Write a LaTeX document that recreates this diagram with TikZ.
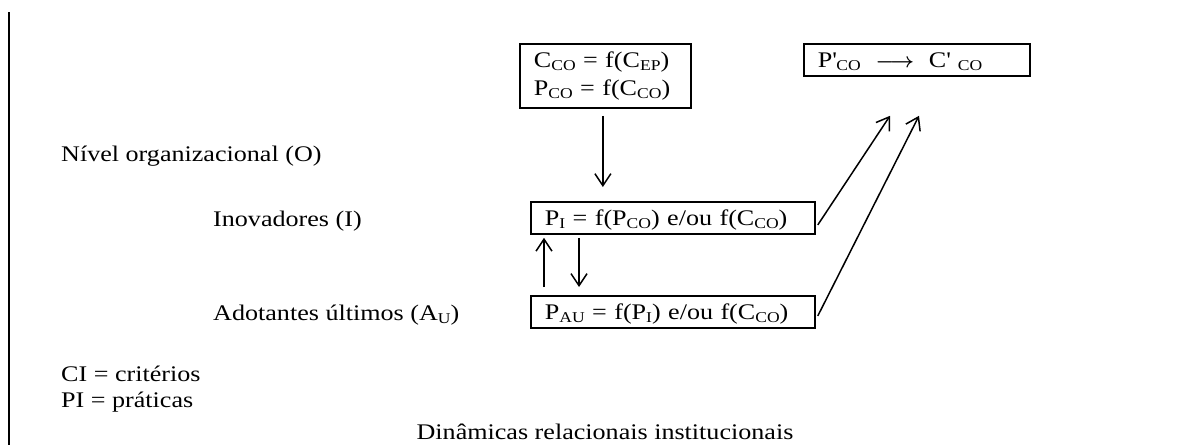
\documentclass[tikz,border=0pt]{standalone}
\usepackage{fontspec}
\setmainfont{Liberation Serif}[FakeStretch=1.17]
\usetikzlibrary{arrows.meta}
\newcommand\lowsub[1]{\raisebox{-3pt}{\fontsize{15}{15}\selectfont #1}}
\newcommand\sq{\XeTeXglyph\XeTeXglyphindex "quotesingle"\relax}
\begin{document}
\begin{tikzpicture}[x=1pt,y=-1pt,
  txt/.style={anchor=base west, inner sep=0pt, font=\fontsize{22.3}{26}\selectfont},
  box/.style={draw, line width=1.8pt, anchor=north west, align=left, inner xsep=14pt, font=\fontsize{22.3}{28}\selectfont},
  onebox/.style={box, inner ysep=2pt, text height=22pt, text depth=6pt},
  arr/.style={line width=1.5pt, -{Straight Barb[length=12pt,width=16pt]}}]
\useasboundingbox (0,0) rectangle (1187,445);
\coordinate (ltop) at (9,12);
\coordinate (lbot) at (9,445);
\draw[line width=2.2pt] (ltop) -- (lbot);

\node[txt] (nivel) at (61,161) {Nível organizacional (O)};
\node[txt] (inov) at (213,226) {Inovadores (I)};
\node[txt] (adot) at (213,320) {Adotantes últimos (A\lowsub{U})};
\node[txt] (ci) at (61,381) {CI = critérios};
\node[txt] (pr) at (61,407) {PI = práticas};
\node[txt, anchor=base] (din) at (605,439) {Dinâmicas relacionais institucionais};

\node[box, text width=143pt, minimum height=64pt, inner ysep=2pt] (cco) at (519,43)
  {C\lowsub{CO} = f(C\lowsub{EP})\\P\lowsub{CO} = f(C\lowsub{CO})};
\node[onebox, text width=198pt, minimum height=31pt] (pco) at (803,43)
  {P\sq\lowsub{CO} \ {\boldmath$\longrightarrow$}\ \ C\sq\ \lowsub{CO}};
\node[onebox, text width=256pt] (pif) at (530,201)
  {P\lowsub{I} = f(P\lowsub{CO}) e/ou f(C\lowsub{CO})};
\node[onebox, text width=256pt] (pau) at (530,295)
  {P\lowsub{AU} = f(P\lowsub{I}) e/ou f(C\lowsub{CO})};

\draw[arr] ([xshift=-2.5pt,yshift=-7pt]cco.south) -- ([xshift=-2.5pt,yshift=14pt]cco.south |- pif.north);
\draw[arr] ([xshift=14pt,yshift=8pt]pau.north west) -- ([xshift=14pt,yshift=-3pt]pif.south west);
\draw[arr] ([xshift=49pt,yshift=-3pt]pif.south west) -- ([xshift=49pt,yshift=8pt]pau.north west);
\draw[arr] ([shift={(2pt,-7pt)}]pif.east) -- ([shift={(87pt,-39pt)}]pco.south west);
\draw[arr] ([shift={(2pt,-4pt)}]pau.east) -- ([shift={(116pt,-39pt)}]pco.south west);
\end{tikzpicture}
\end{document}
